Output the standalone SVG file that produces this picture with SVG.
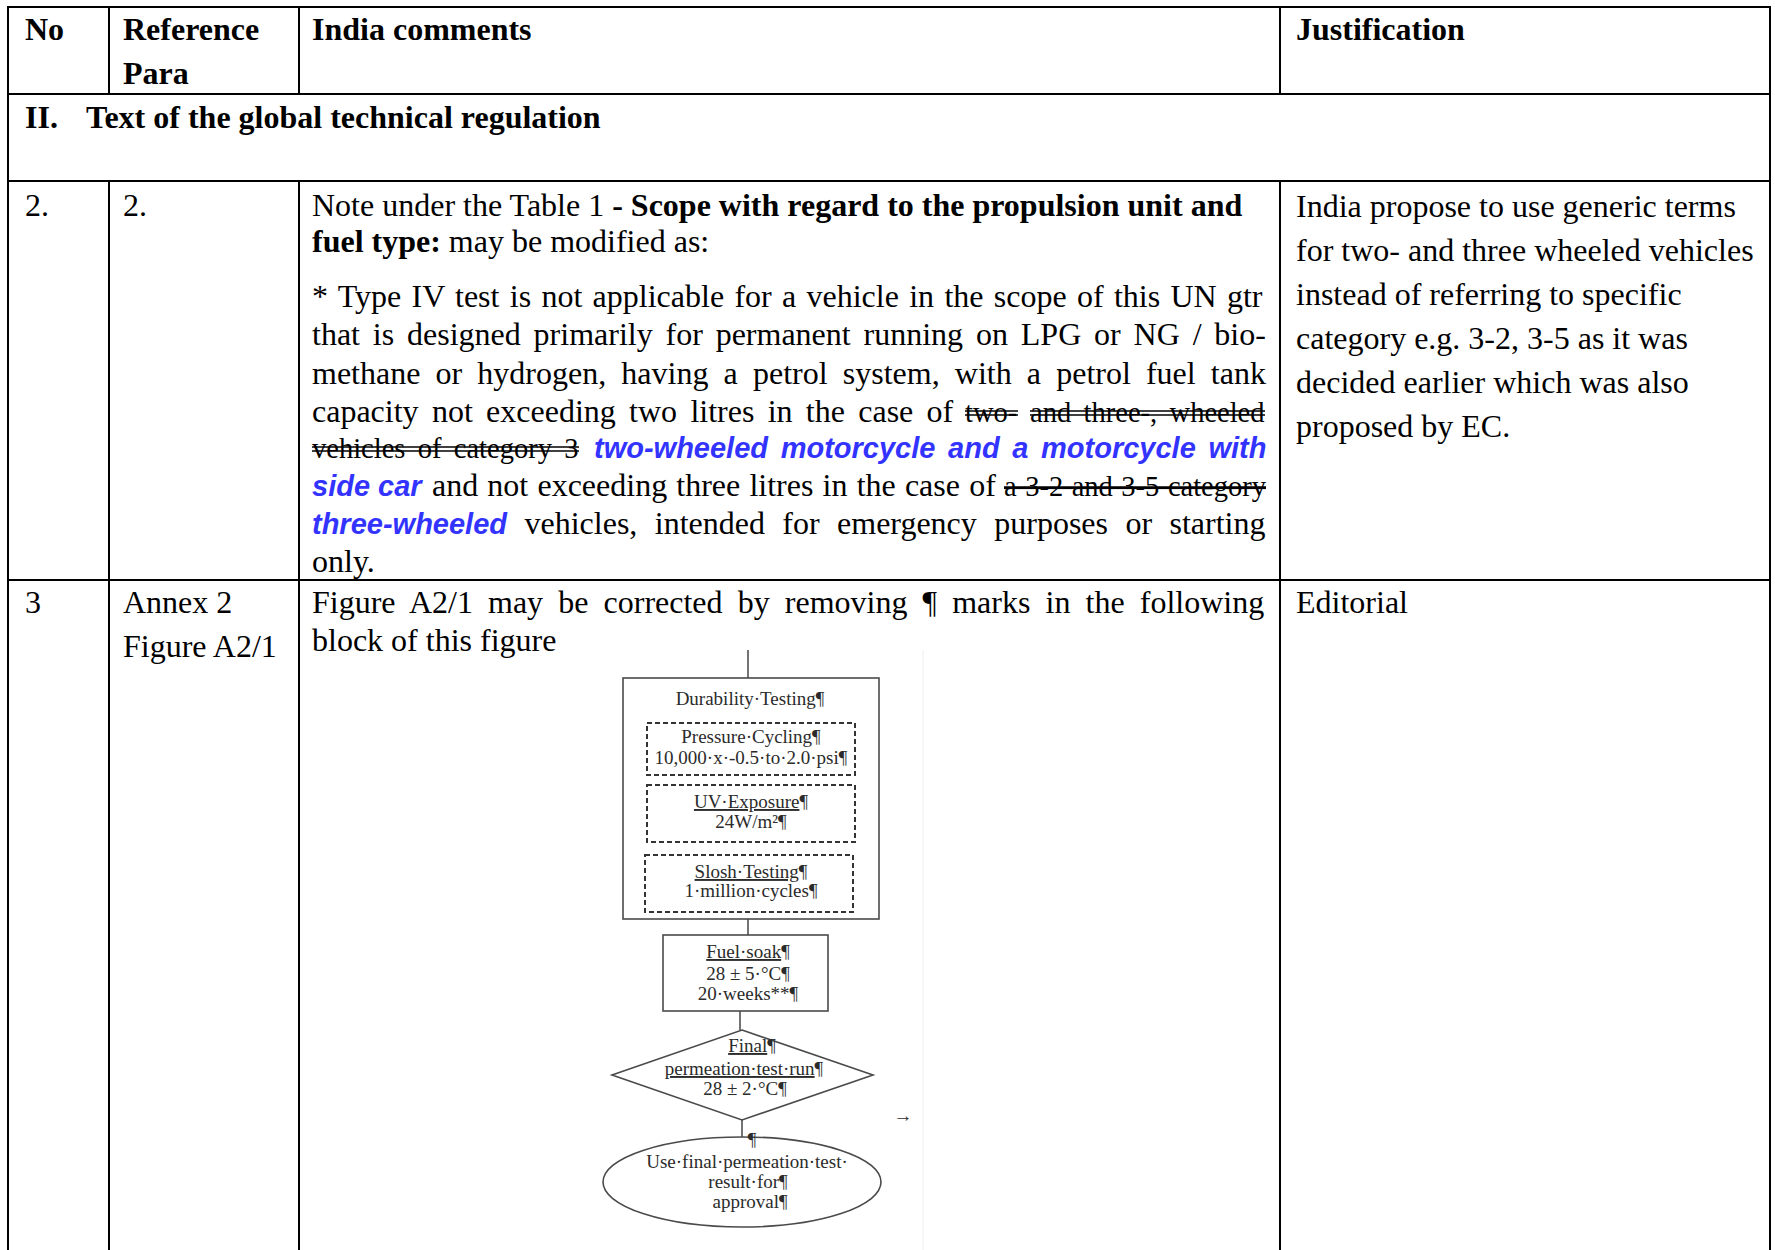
<svg xmlns="http://www.w3.org/2000/svg" width="1775" height="1250" viewBox="0 0 1775 1250">
<style>
.t{font-family:"Liberation Serif","Times New Roman",serif;font-size:32px;fill:#000}
.b{font-weight:bold}
.k{font-size:28.5px}
.ls{text-decoration:line-through}
.bl{font-family:"Liberation Sans",Arial,sans-serif;font-weight:bold;font-style:italic;font-size:29px;fill:#3333ff}
.grid line{stroke:#000;stroke-width:2}
.dbl line{stroke:#000;stroke-width:1.3}
.fc{font-family:"Liberation Serif","Times New Roman",serif;font-size:19px;fill:#2b2b2b;text-anchor:middle}
.u{text-decoration:underline}
.box{fill:#fff;stroke:#4a4a4a;stroke-width:1.6}
.dash{fill:none;stroke:#333;stroke-width:2;stroke-dasharray:5 3}
.conn line{stroke:#444;stroke-width:1.5}
</style>
<rect width="1775" height="1250" fill="#fff"/>
<g id="table" class="grid">
<line x1="8" y1="7" x2="1770" y2="7"/>
<line x1="8" y1="6" x2="8" y2="1250"/>
<line x1="1770" y1="6" x2="1770" y2="1250"/>
<line x1="8" y1="94" x2="1770" y2="94"/>
<line x1="8" y1="181" x2="1770" y2="181"/>
<line x1="8" y1="580" x2="1770" y2="580"/>
<line x1="109" y1="7" x2="109" y2="94"/>
<line x1="299" y1="7" x2="299" y2="94"/>
<line x1="1280" y1="7" x2="1280" y2="94"/>
<line x1="109" y1="181" x2="109" y2="1250"/>
<line x1="299" y1="181" x2="299" y2="1250"/>
<line x1="1280" y1="181" x2="1280" y2="1250"/>
</g>
<g id="header">
<text class="t b" x="25" y="40">No</text>
<text class="t b" x="123" y="40">Reference</text>
<text class="t b" x="123" y="84">Para</text>
<text class="t b" x="312" y="40">India comments</text>
<text class="t b" x="1296" y="40">Justification</text>
</g>
<g id="section">
<text class="t b" x="25" y="128">II.</text>
<text class="t b" x="86" y="128">Text of the global technical regulation</text>
</g>
<g id="row2">
<text class="t" x="25" y="216">2.</text>
<text class="t" x="123" y="216">2.</text>
<text class="t" x="312" y="216">Note under the Table 1 <tspan class="b">- Scope with regard to the propulsion unit and</tspan></text>
<text class="t" x="312" y="252"><tspan class="b">fuel type:</tspan> may be modified as:</text>
<text class="t" x="312" y="307" word-spacing="2.3">* Type IV test is not applicable for a vehicle in the scope of this UN gtr</text>
<text class="t" x="312" y="345" word-spacing="4.84">that is designed primarily for permanent running on LPG or NG / bio-</text>
<text class="t" x="312" y="384" word-spacing="7.15">methane or hydrogen, having a petrol system, with a petrol fuel tank</text>
<text class="t" y="422" word-spacing="5.3"><tspan x="312">capacity not exceeding two litres in the case of</tspan><tspan class="k" x="965">two-</tspan><tspan class="k" x="1030">and three-, wheeled</tspan></text>
<text class="t" y="458"><tspan class="k" x="312" word-spacing="5.2">vehicles of category 3</tspan><tspan class="bl" x="594" word-spacing="4.6">two-wheeled motorcycle and a motorcycle with</tspan></text>
<text class="t" y="496"><tspan class="bl" x="312">side car</tspan><tspan x="432" word-spacing="1.17">and not exceeding three litres in the case of</tspan><tspan class="k ls" x="1004" word-spacing="1.4">a 3-2 and 3-5 category</tspan></text>
<text class="t" y="534"><tspan class="bl" x="312">three-wheeled</tspan><tspan x="524.5" word-spacing="9.4">vehicles, intended for emergency purposes or starting</tspan></text>
<text class="t" x="312" y="572">only.</text>
<g class="dbl">
<line x1="965" y1="411" x2="1018" y2="411"/><line x1="965" y1="415" x2="1018" y2="415"/>
<line x1="1030" y1="411" x2="1265" y2="411"/><line x1="1030" y1="415" x2="1265" y2="415"/>
<line x1="312" y1="447" x2="579" y2="447"/><line x1="312" y1="451" x2="579" y2="451"/>
</g>
<text class="t" x="1296" y="217">India propose to use generic terms</text>
<text class="t" x="1296" y="261">for two- and three wheeled vehicles</text>
<text class="t" x="1296" y="305">instead of referring to specific</text>
<text class="t" x="1296" y="349">category e.g. 3-2, 3-5 as it was</text>
<text class="t" x="1296" y="393">decided earlier which was also</text>
<text class="t" x="1296" y="437">proposed by EC.</text>
</g>
<g id="row3">
<text class="t" x="25" y="613">3</text>
<text class="t" x="123" y="613">Annex 2</text>
<text class="t" x="123" y="657">Figure A2/1</text>
<text class="t" x="312" y="613" word-spacing="7.12">Figure A2/1 may be corrected by removing ¶ marks in the following</text>
<text class="t" x="312" y="651">block of this figure</text>
<text class="t" x="1296" y="613">Editorial</text>
</g>
<line x1="923" y1="650" x2="923" y2="1250" stroke="#eeeeee" stroke-width="1"/>
<g id="connectors" class="conn">
<line x1="748" y1="650" x2="748" y2="678"/>
<line x1="748" y1="919" x2="748" y2="935"/>
<line x1="748" y1="940" x2="748" y2="966" stroke-width="1"/>
<line x1="740" y1="1011" x2="740" y2="1030"/>
<line x1="742" y1="1120" x2="742" y2="1137"/>
</g>
<g id="durability">
<rect class="box" x="623" y="678" width="256" height="241"/>
<text class="fc" x="750" y="705">Durability·Testing¶</text>
</g>
<g id="pressure">
<rect class="dash" x="647" y="723" width="208" height="52"/>
<text class="fc" x="751" y="743">Pressure·Cycling¶</text>
<text class="fc" x="751" y="764">10,000·x·-0.5·to·2.0·psi¶</text>
</g>
<g id="uv">
<rect class="dash" x="647" y="785" width="208" height="57"/>
<text class="fc" x="751" y="808"><tspan class="u">UV·Exposure</tspan>¶</text>
<text class="fc" x="751" y="828">24W/m²¶</text>
</g>
<g id="slosh">
<rect class="dash" x="645" y="855" width="208" height="57"/>
<text class="fc" x="751" y="878"><tspan class="u">Slosh·Testing</tspan>¶</text>
<text class="fc" x="751" y="897">1·million·cycles¶</text>
</g>
<g id="fuelsoak">
<rect class="box" x="663" y="935" width="165" height="76" fill="none"/>
<text class="fc" x="748" y="958"><tspan class="u">Fuel·soak</tspan>¶</text>
<text class="fc" x="748" y="980">28 ± 5·°C¶</text>
<text class="fc" x="748" y="1000">20·weeks**¶</text>
</g>
<g id="final">
<polygon class="box" points="742,1030 873,1075 742,1120 612,1075"/>
<text class="fc" x="752" y="1052"><tspan class="u">Final</tspan>¶</text>
<text class="fc" x="744" y="1075"><tspan class="u">permeation·test·run</tspan>¶</text>
<text class="fc" x="745" y="1095">28 ± 2·°C¶</text>
</g>
<g id="approval">
<ellipse class="box" cx="742" cy="1182" rx="139" ry="45"/>
<text class="fc" x="752" y="1146" font-size="11">¶</text>
<text class="fc" x="747" y="1168">Use·final·permeation·test·</text>
<text class="fc" x="748" y="1188">result·for¶</text>
<text class="fc" x="750" y="1208">approval¶</text>
</g>
<text class="fc" x="903" y="1122" font-size="14" fill="#777">→</text>
</svg>
